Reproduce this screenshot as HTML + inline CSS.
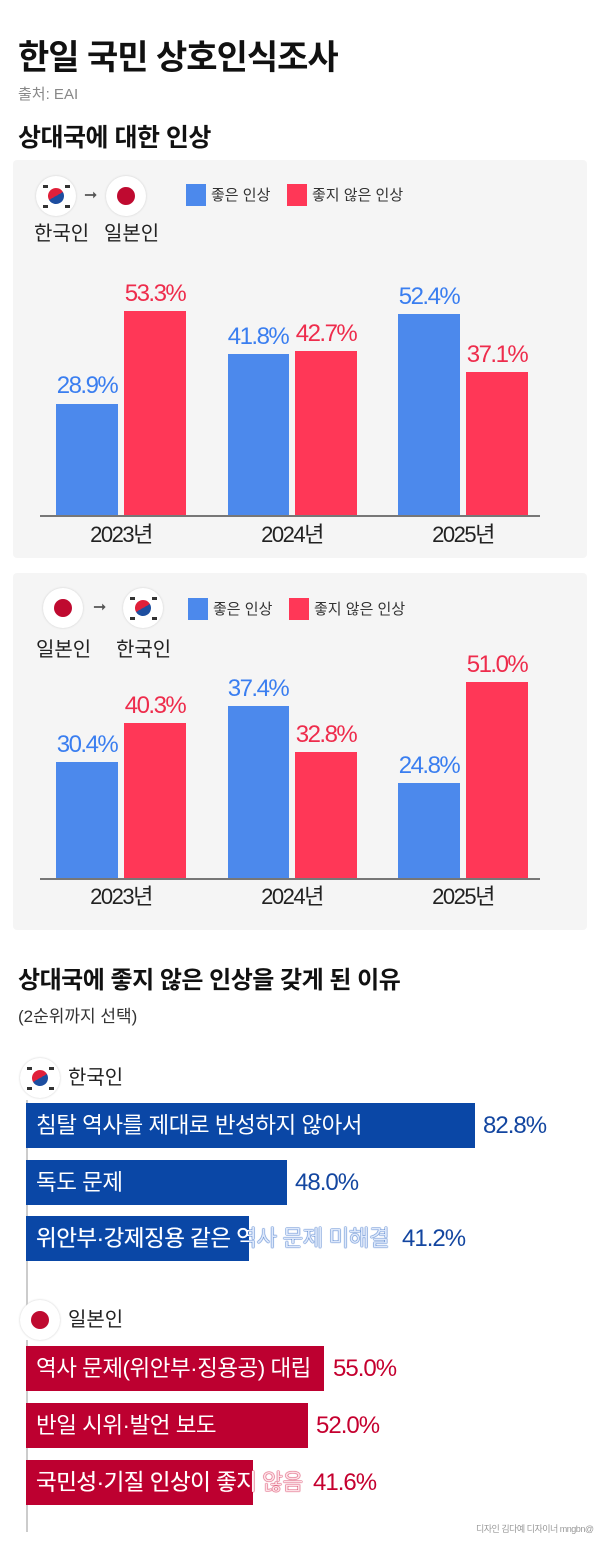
<!DOCTYPE html>
<html><head><meta charset="utf-8">
<style>
*{margin:0;padding:0;box-sizing:border-box}
body{width:600px;height:1543px;background:#fff;position:relative;overflow:hidden;font-family:"Liberation Sans","Noto Sans CJK KR",sans-serif;color:#111}
.a{position:absolute;white-space:nowrap}
.panel{position:absolute;left:13px;width:574px;background:#f5f5f5;border-radius:4px}
.bar{position:absolute}
.b{background:#4c89ec}.r{background:#ff3757}
.vl{position:absolute;font-size:24px;letter-spacing:-1.5px;text-align:center;width:90px;line-height:1}
.vb{color:#3a7ef0}.vr{color:#ee2c4c}
.yr{position:absolute;font-size:22px;letter-spacing:-1.5px;width:120px;text-align:center;line-height:1;color:#222}
.axis{position:absolute;height:1.5px;background:#777}
.flag{position:absolute;width:40px;height:40px;border-radius:50%;background:#fff;box-shadow:0 0 2px #ccc}
.jp::after{content:"";position:absolute;left:11px;top:11px;width:18px;height:18px;border-radius:50%;background:#bf0a30}
.kr::after{content:"";position:absolute;left:12px;top:12px;width:16px;height:16px;border-radius:50%;background:linear-gradient(#e0203a 50%,#1d4ea0 50%);transform:rotate(-30deg)}
.kr::before{content:"";position:absolute;left:19px;top:19px;width:5px;height:3px;background:#333;box-shadow:-12px -10px 0 #333,10px -10px 0 #333,-12px 10px 0 #333,10px 10px 0 #333;background:transparent}
.leg{position:absolute;width:20px;height:22px}
.lt{position:absolute;font-size:15px;color:#333;line-height:1}
.lab{position:absolute;font-size:20px;line-height:1;color:#222}
.arr{position:absolute;font-size:16px;color:#555;line-height:1}
.hb{position:absolute;left:26px;height:45px;color:#fff;font-size:22.5px;line-height:45px;padding-left:10px;letter-spacing:-0.5px;white-space:nowrap}
.db{background:#0a47a6}.dr{background:#bd0030}
.hv{position:absolute;font-size:24px;line-height:45px;letter-spacing:-1px}
.hvb{color:#1346a0}.hvr{color:#c5002f}
</style></head><body>
<div class="a" style="left:18px;top:30px;font-size:34px;font-weight:bold;letter-spacing:-1px">한일 국민 상호인식조사</div>
<div class="a" style="left:18px;top:83px;font-size:15px;color:#888">출처: EAI</div>
<div class="a" style="left:18px;top:118px;font-size:25px;font-weight:bold;letter-spacing:-0.5px">상대국에 대한 인상</div>

<div class="panel" style="top:160px;height:398px"></div>
<div class="flag kr" style="left:36px;top:176px"></div>
<div class="arr" style="left:84px;top:188px">➞</div>
<div class="flag jp" style="left:106px;top:176px"></div>
<div class="lab" style="left:34px;top:224px">한국인</div>
<div class="lab" style="left:104px;top:224px">일본인</div>
<div class="leg b" style="left:186px;top:184px"></div><div class="lt" style="left:211px;top:188px">좋은 인상</div>
<div class="leg r" style="left:287px;top:184px"></div><div class="lt" style="left:312px;top:188px">좋지 않은 인상</div>

<div class="bar b" style="left:56px;top:404px;width:62px;height:111px"></div>
<div class="bar r" style="left:124px;top:311px;width:62px;height:204px"></div>
<div class="bar b" style="left:228px;top:354px;width:61px;height:161px"></div>
<div class="bar r" style="left:295px;top:351px;width:62px;height:164px"></div>
<div class="bar b" style="left:398px;top:314px;width:62px;height:201px"></div>
<div class="bar r" style="left:466px;top:372px;width:62px;height:143px"></div>
<div class="vl vb" style="left:42px;top:374px">28.9%</div>
<div class="vl vr" style="left:110px;top:282px">53.3%</div>
<div class="vl vb" style="left:213px;top:325px">41.8%</div>
<div class="vl vr" style="left:281px;top:322px">42.7%</div>
<div class="vl vb" style="left:384px;top:285px">52.4%</div>
<div class="vl vr" style="left:452px;top:343px">37.1%</div>
<div class="axis" style="left:40px;width:500px;top:515px"></div>
<div class="yr" style="left:61px;top:524px">2023년</div>
<div class="yr" style="left:232px;top:524px">2024년</div>
<div class="yr" style="left:403px;top:524px">2025년</div>

<div class="panel" style="top:573px;height:357px"></div>
<div class="flag jp" style="left:43px;top:588px"></div>
<div class="arr" style="left:93px;top:600px">➞</div>
<div class="flag kr" style="left:123px;top:588px"></div>
<div class="lab" style="left:36px;top:640px">일본인</div>
<div class="lab" style="left:116px;top:640px">한국인</div>
<div class="leg b" style="left:188px;top:598px"></div><div class="lt" style="left:213px;top:602px">좋은 인상</div>
<div class="leg r" style="left:289px;top:598px"></div><div class="lt" style="left:314px;top:602px">좋지 않은 인상</div>

<div class="bar b" style="left:56px;top:762px;width:62px;height:116px"></div>
<div class="bar r" style="left:124px;top:723px;width:62px;height:155px"></div>
<div class="bar b" style="left:228px;top:706px;width:61px;height:172px"></div>
<div class="bar r" style="left:295px;top:752px;width:62px;height:126px"></div>
<div class="bar b" style="left:398px;top:783px;width:62px;height:95px"></div>
<div class="bar r" style="left:466px;top:682px;width:62px;height:196px"></div>
<div class="vl vb" style="left:42px;top:733px">30.4%</div>
<div class="vl vr" style="left:110px;top:694px">40.3%</div>
<div class="vl vb" style="left:213px;top:677px">37.4%</div>
<div class="vl vr" style="left:281px;top:723px">32.8%</div>
<div class="vl vb" style="left:384px;top:754px">24.8%</div>
<div class="vl vr" style="left:452px;top:653px">51.0%</div>
<div class="axis" style="left:40px;width:500px;top:878px"></div>
<div class="yr" style="left:61px;top:886px">2023년</div>
<div class="yr" style="left:232px;top:886px">2024년</div>
<div class="yr" style="left:403px;top:886px">2025년</div>

<div class="a" style="left:18px;top:960px;font-size:24px;font-weight:bold;letter-spacing:-0.5px">상대국에 좋지 않은 인상을 갖게 된 이유</div>
<div class="a" style="left:18px;top:1002px;font-size:17px;color:#333">(2순위까지 선택)</div>

<div class="flag kr" style="left:20px;top:1058px"></div>
<div class="lab" style="left:68px;top:1068px">한국인</div>
<div class="a" style="left:26px;top:1100px;width:1.5px;height:212px;background:#ccc"></div>
<div class="hb db" style="top:1103px;width:449px">침탈 역사를 제대로 반성하지 않아서</div>
<div class="hv hvb" style="left:483px;top:1103px">82.8%</div>
<div class="hb db" style="top:1160px;width:261px">독도 문제</div>
<div class="hv hvb" style="left:295px;top:1160px">48.0%</div>
<div class="hb db" style="top:1216px;width:223px"></div>
<div class="a" style="left:36px;top:1216px;font-size:22.5px;line-height:45px;letter-spacing:-0.5px;color:#dde8fb;text-shadow:0 0 1px #2a64c0,0 0 1px #2a64c0,0 0 1px #2a64c0">위안부·강제징용 같은 역사 문제 미해결</div>
<div class="a" style="left:36px;top:1216px;width:213px;overflow:hidden;font-size:22.5px;line-height:45px;letter-spacing:-0.5px;color:#fff">위안부·강제징용 같은 역사 문제 미해결</div>
<div class="hv hvb" style="left:402px;top:1216px">41.2%</div>

<div class="flag jp" style="left:20px;top:1300px"></div>
<div class="lab" style="left:68px;top:1310px">일본인</div>
<div class="a" style="left:26px;top:1340px;width:1.5px;height:192px;background:#ccc"></div>
<div class="hb dr" style="top:1346px;width:298px">역사 문제(위안부·징용공) 대립</div>
<div class="hv hvr" style="left:333px;top:1346px">55.0%</div>
<div class="hb dr" style="top:1403px;width:282px">반일 시위·발언 보도</div>
<div class="hv hvr" style="left:316px;top:1403px">52.0%</div>
<div class="hb dr" style="top:1460px;width:227px"></div>
<div class="a" style="left:36px;top:1460px;font-size:22.5px;line-height:45px;letter-spacing:-0.5px;color:#fde0e6;text-shadow:0 0 1px #d02048,0 0 1px #d02048,0 0 1px #d02048">국민성·기질 인상이 좋지 않음</div>
<div class="a" style="left:36px;top:1460px;width:217px;overflow:hidden;font-size:22.5px;line-height:45px;letter-spacing:-0.5px;color:#fff">국민성·기질 인상이 좋지 않음</div>
<div class="hv hvr" style="left:313px;top:1460px">41.6%</div>

<div class="a" style="left:476px;top:1522px;font-size:9px;color:#999;letter-spacing:-0.5px">디자인 김다예 디자이너 mngbn@</div>
</body></html>
